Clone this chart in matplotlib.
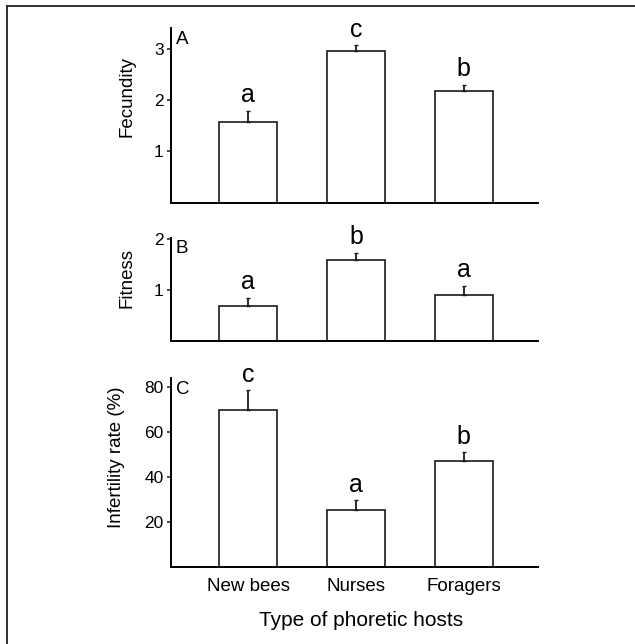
import numpy as np
import matplotlib
matplotlib.use("Agg")
import matplotlib.pyplot as plt
from matplotlib.lines import Line2D

plt.rcParams['font.family'] = ['Liberation Sans', 'DejaVu Sans']

categories = ['New bees', 'Nurses', 'Foragers']

fecundity = [1.58, 2.95, 2.18]
fecundity_se = [0.21, 0.11, 0.12]
fecundity_grp = ['a', 'c', 'b']

fitness = [0.69, 1.59, 0.90]
fitness_se = [0.16, 0.15, 0.19]
fitness_grp = ['a', 'b', 'a']

infertility = [69.9, 25.3, 47.2]
infertility_se = [8.9, 4.5, 4.0]
infertility_grp = ['c', 'a', 'b']

W, H = 635, 644
fig = plt.figure(figsize=(W / 100, H / 100), dpi=100)

# cropped frame of the original figure: only top and left edges visible
fig.add_artist(Line2D([6.5 / W, 1.0], [1 - 6 / H, 1 - 6 / H], transform=fig.transFigure,
                      color='#222222', lw=1.3))
fig.add_artist(Line2D([6.5 / W, 6.5 / W], [0.0, 1 - 6 / H], transform=fig.transFigure,
                      color='#222222', lw=1.3))


def px_axes(top, bottom, left=170.7, right=538):
    return fig.add_axes([left / W, 1 - bottom / H, (right - left) / W, (bottom - top) / H])


panels = [
    (px_axes(28, 202.7), fecundity, fecundity_se, fecundity_grp, 'Fecundity', (0, 3.4), [1, 2, 3], 'A', -0.097, 0.607),
    (px_axes(238.3, 341), fitness, fitness_se, fitness_grp, 'Fitness', (0, 2.02), [1, 2], 'B', -0.097, 0.61),
    (px_axes(377.7, 567.3), infertility, infertility_se, infertility_grp, 'Infertility rate (%)', (0, 84.3), [20, 40, 60, 80], 'C', -0.124, 0.58),
]

x = np.arange(len(categories))
for i, (ax, vals, se, grp, ylab, ylim, yt, tag, lx, ly) in enumerate(panels):
    ax.bar(x, vals, width=0.54, color='white', edgecolor='#1a1a1a', linewidth=1.2, zorder=2)
    ax.errorbar(x, vals, yerr=[np.zeros(len(vals)), se], fmt='none', ecolor='#1a1a1a',
                elinewidth=1.3, capsize=1.5, capthick=1.0, zorder=3)
    for xi, v, s, g in zip(x, vals, se, grp):
        ax.annotate(g, (xi, v + s), xytext=(0, 6), textcoords='offset points',
                    ha='center', va='baseline', fontsize=18, annotation_clip=False)
    ax.set_xlim(-0.72, 2.69)
    ax.set_ylim(*ylim)
    ax.set_yticks(yt)
    ax.spines['top'].set_visible(False)
    ax.spines['right'].set_visible(False)
    ax.spines['left'].set_linewidth(1.4)
    ax.spines['bottom'].set_linewidth(1.4)
    ax.tick_params(axis='y', length=3, width=1.1, pad=2, labelsize=12.5, color='#1a1a1a')
    ax.tick_params(axis='x', length=0, pad=8, labelsize=13.5)
    ax.set_ylabel(ylab, fontsize=13.5)
    ax.yaxis.set_label_coords(lx, ly)
    ax.text(0.014, 0.985, tag, transform=ax.transAxes, fontsize=13.5, ha='left', va='top')
    if i < 2:
        ax.set_xticks([])
    else:
        ax.set_xticks(x)
        ax.set_xticklabels(categories)

fig.text(361 / W, 1 - 620 / H, 'Type of phoretic hosts', fontsize=15, ha='center', va='center')

plt.savefig('out.png', dpi=100)
